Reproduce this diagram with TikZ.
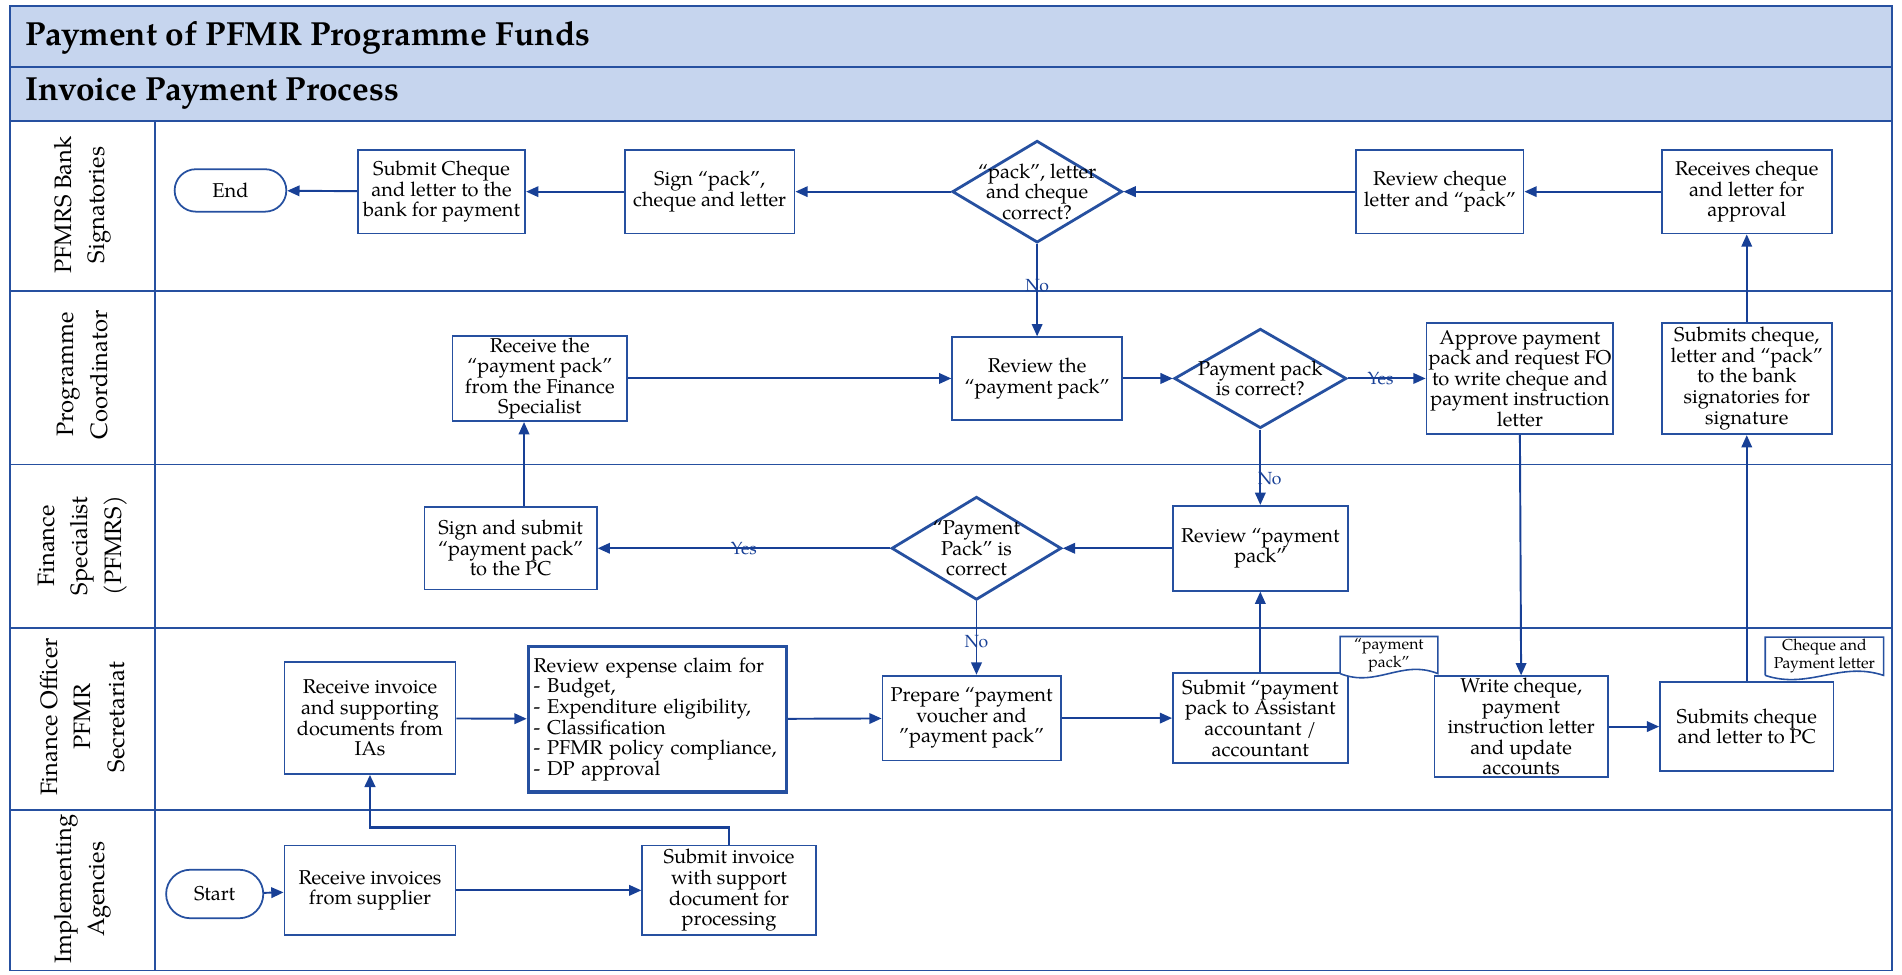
\documentclass[tikz,border=0pt]{standalone}
\usepackage{fontspec}
\setmainfont{texgyrepagella}[Extension=.otf,UprightFont=*-regular,BoldFont=*-bold,ItalicFont=*-italic,BoldItalicFont=*-bolditalic]
\usepackage{tikz}
\usepackage{xcolor}
\usetikzlibrary{arrows.meta,calc,positioning,shapes.geometric,shapes.misc}
\definecolor{laneblue}{RGB}{38,80,160}
\definecolor{arrowblue}{RGB}{24,64,150}
\definecolor{titlefill}{RGB}{198,213,238}
\newlength{\unitpx}\setlength{\unitpx}{0.02426cm}
\newcommand{\titlefont}{\fontsize{19}{22}\selectfont\bfseries}
\newcommand{\boxfont}{\fontsize{11.4}{11.7}\selectfont}
\newcommand{\lanefont}{\fontsize{13.5}{19}\selectfont}
\newcommand{\docfont}{\fontsize{9}{9}\selectfont}
\newcommand{\ynfont}{\fontsize{10}{10}\selectfont}

\begin{document}
\begin{tikzpicture}[x=0.02426cm,y=-0.02426cm,
  lanel/.style={draw=laneblue,line width=1pt},
  wh/.style 2 args={minimum width=#1\unitpx,minimum height=#2\unitpx},
  box/.style={draw=laneblue,line width=1pt,fill=white,inner sep=1pt,align=center,font=\boxfont},
  dia/.style={diamond,draw=laneblue,line width=1.6pt,fill=white,inner sep=-5pt,align=center,font=\boxfont},
  term/.style={rounded rectangle,draw=laneblue,line width=1pt,fill=white,inner sep=1pt,font=\boxfont},
  docbox/.style={inner sep=0pt,align=center,font=\docfont},
  docline/.style={draw=laneblue,line width=0.9pt,fill=white},
  lanelab/.style={rotate=90,align=center,font=\lanefont,inner sep=0pt},
  arr/.style={draw=arrowblue,line width=1.1pt,-{Triangle[length=7pt,width=6pt]}},
  yn/.style={text=arrowblue,font=\ynfont,inner sep=1pt}]
  \useasboundingbox (0,0) rectangle (1568,803);

  % frame and lanes
  \fill[titlefill] (8,5) rectangle (1560,100);
  \draw[lanel] (8,5) rectangle (1560,800);
  \foreach \yy in {55,100,240,383,518,668}
    \draw[lanel] (8,\yy) -- (1560,\yy);
  \draw[lanel] (128,100) -- (128,800);

  \node[anchor=west,font=\titlefont] (title) at (16,31) {Payment of PFMR Programme Funds};
  \node[anchor=west,font=\titlefont] (subtitle) at (16,77) {Invoice Payment Process};

  \node[lanelab] (lbank) at (68,169) {PFMRS Bank\\Signatories};
  \node[lanelab] (lpc) at (68,309) {Programme\\Coordinator};
  \node[lanelab] (lfs) at (68,450) {Finance\\Specialist\\(PFMRS)};
  \node[lanelab] (lfo) at (68,591) {Finance Officer\\PFMR\\Secretariat};
  \node[lanelab] (lia) at (68,733) {Implementing\\Agencies};

  % bank signatories
  \node[term,wh={95}{35}] (endn) at (190,157) {End};
  \node[box,wh={138}{69}] (subchq) at (364,158) {Submit Cheque\\and letter to the\\bank for payment};
  \node[box,wh={140}{69}] (signpk) at (585,158) {Sign “pack”,\\cheque and letter};
  \node[dia,wh={140}{84},shape aspect=1.67] (diabank) at (855,158) {“pack”, letter\\and cheque\\correct?};
  \node[box,wh={138}{69}] (rvchq) at (1187,158) {Review cheque\\letter and “pack”};
  \node[box,wh={140}{69}] (rcvchq) at (1440,158) {Receives cheque\\and letter for\\approval};

  % programme coordinator
  \node[box,wh={144}{68}] (rcvpc) at (445,312) {Receive the\\“payment pack”\\from the Finance\\Specialist};
  \node[box,wh={140}{68}] (rvpc) at (855,312) {Review the\\“payment pack”};
  \node[dia,wh={142}{82},shape aspect=1.73] (diapc) at (1039,312) {Payment pack\\is correct?};
  \node[box,wh={154}{92}] (apprv) at (1253,312) {Approve payment\\pack and request FO\\to write cheque and\\payment instruction\\letter};
  \node[box,wh={140}{92}] (subpc) at (1440,312) {Submits cheque,\\letter and “pack”\\to the bank\\signatories for\\signature};

  % finance specialist
  \node[box,wh={142}{68}] (signfs) at (421,452) {Sign and submit\\“payment pack”\\to the PC};
  \node[dia,wh={140}{85},shape aspect=1.65] (diafs) at (805,452) {“Payment\\Pack” is\\correct};
  \node[box,wh={144}{70}] (rvfs) at (1039,452) {Review “payment\\pack”};

  % finance officer
  \node[box,wh={141}{92}] (rcvinv) at (305,592) {Receive invoice\\and supporting\\documents from\\IAs};
  \node[box,line width=2pt,wh={212}{120},inner sep=3pt,align=left,text width=204\unitpx] (rvexp) at (542,593) {Review expense claim for\\- Budget,\\- Expenditure eligibility,\\- Classification\\- PFMR policy compliance,\\- DP approval};
  \node[box,wh={147}{70}] (prep) at (801,592) {Prepare “payment\\voucher and\\”payment pack”};
  \node[box,wh={144}{74}] (subpk) at (1039,592) {Submit “payment\\pack to Assistant\\accountant /\\accountant};
  \node[box,wh={143}{83}] (wrchq) at (1254,599) {Write cheque,\\payment\\instruction letter\\and update\\accounts};
  \node[box,wh={143}{73}] (subfo) at (1440,599) {Submits cheque\\and letter to PC};
  \node[docbox,wh={80}{30}] (ppdoc) at (1145,540) {“payment\\pack”};
  \node[docbox,wh={97}{31}] (cpdoc) at (1504,541) {Cheque and\\Payment letter};
  \draw[docline] (ppdoc.south west) -- (ppdoc.north west) -- (ppdoc.north east) -- (ppdoc.south east)
    .. controls +(-30,-12) and +(30,12) .. (ppdoc.south west);
  \draw[docline] (cpdoc.south west) -- (cpdoc.north west) -- (cpdoc.north east) -- (cpdoc.south east)
    .. controls +(-36,-12) and +(36,12) .. (cpdoc.south west);
  \node[docbox] at (ppdoc) {“payment\\pack”};
  \node[docbox] at (cpdoc) {Cheque and\\Payment letter};

  % implementing agencies
  \node[term,wh={83}{40}] (start) at (177,737) {Start};
  \node[box,wh={141}{74}] (rcvsup) at (305,734) {Receive invoices\\from supplier};
  \node[box,wh={143}{74}] (subinv) at (601,734) {Submit invoice\\with support\\document for\\processing};

  % connectors
  \coordinate (signup) at ($(signfs.north)+(11,0)$);
  \draw[arr] (rcvchq) -- (rvchq);
  \draw[arr] (rvchq) -- (diabank);
  \draw[arr] (diabank) -- (signpk);
  \draw[arr] (signpk) -- (subchq);
  \draw[arr] (subchq) -- (endn);
  \draw[arr] (diabank.south) -- node[yn,pos=0.45]{No} (rvpc.north);
  \draw[arr] (rcvpc) -- (rvpc);
  \draw[arr] (rvpc) -- (diapc);
  \draw[arr] (diapc) -- node[yn,pos=0.42]{Yes} (apprv);
  \draw[arr] (diapc.south) -- node[yn,pos=0.65,right=-3pt]{No} (rvfs.north);
  \draw[arr] (apprv.south) -- (wrchq.north);
  \draw[arr] (subpc.north) -- (rcvchq.south);
  \draw[arr] (rvfs) -- (diafs);
  \draw[arr] (diafs) -- node[yn,pos=0.5]{Yes} (signfs);
  \draw[arr] (signup) -- (signup |- rcvpc.south);
  \draw[arr] (diafs.south) -- node[yn,pos=0.55]{No} (diafs.south |- prep.north);
  \draw[arr] (subpk.north) -- (rvfs.south);
  \draw[arr] (rcvinv) -- (rvexp);
  \draw[arr] (rvexp) -- (prep);
  \draw[arr] (prep) -- (subpk);
  \draw[arr] (wrchq) -- (subfo);
  \draw[arr] (subfo.north) -- (subpc.south);
  \draw[arr] (start) -- (rcvsup);
  \draw[arr] (rcvsup) -- (subinv);
  \draw[arr,line width=1.6pt] (subinv.north) -- ++(0,-14) -| (rcvinv.south);
\end{tikzpicture}
\end{document}
